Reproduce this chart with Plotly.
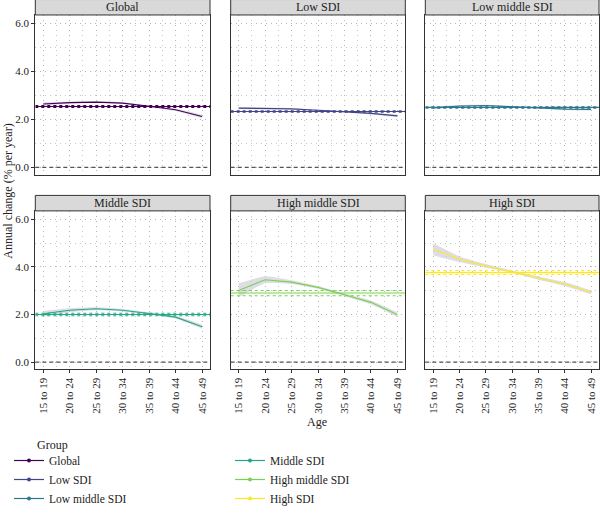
import plotly.graph_objects as go
from plotly.subplots import make_subplots

ages = ["15 to 19", "20 to 24", "25 to 29", "30 to 34", "35 to 39", "40 to 44", "45 to 49"]
groups = ["Global", "Low SDI", "Low middle SDI", "Middle SDI", "High middle SDI", "High SDI"]
colors = ["#440154", "#414487", "#2A788E", "#22A884", "#7AD151", "#FDE725"]

global_rate = [2.64, 2.70, 2.72, 2.68, 2.55, 2.40, 2.12]
low_rate = [2.47, 2.47, 2.44, 2.38, 2.32, 2.25, 2.15]
lowmid_rate = [2.48, 2.56, 2.58, 2.52, 2.47, 2.43, 2.42]
mid_rate = [2.03, 2.18, 2.24, 2.18, 2.04, 1.89, 1.49]
highmid_rate = [3.01, 3.46, 3.36, 3.14, 2.83, 2.51, 1.99]
high_rate = [4.74, 4.32, 4.04, 3.80, 3.53, 3.28, 2.93]

global_ci = [0.08, 0.05, 0.04, 0.04, 0.04, 0.05, 0.07]
low_ci = [0.05, 0.04, 0.03, 0.03, 0.03, 0.04, 0.05]
lowmid_ci = [0.05, 0.04, 0.03, 0.03, 0.03, 0.04, 0.05]
mid_ci = [0.12, 0.08, 0.06, 0.05, 0.05, 0.06, 0.09]
highmid_ci = [0.30, 0.15, 0.08, 0.06, 0.06, 0.08, 0.10]
high_ci = [0.25, 0.12, 0.08, 0.05, 0.07, 0.08, 0.08]

overall_rate = [2.54, 2.33, 2.50, 2.00, 2.90, 3.76]
overall_ci = [0.04, 0.03, 0.03, 0.05, 0.11, 0.08]

rates = [global_rate, low_rate, lowmid_rate, mid_rate, highmid_rate, high_rate]
cis = [global_ci, low_ci, lowmid_ci, mid_ci, highmid_ci, high_ci]

W, H = 600, 513
FONT = "Liberation Serif"
fig = make_subplots(rows=2, cols=3)

xdoms = [(35.3, 210.0), (230.7, 405.3), (425.3, 599.0)]
ydoms = [(15.0, 175.0), (211.3, 370.0)]
strip_h = 15.5

xpos = list(range(len(ages)))

for i, g in enumerate(groups):
    r, c = i // 3 + 1, i % 3 + 1
    col = colors[i]
    up = [v + e for v, e in zip(rates[i], cis[i])]
    lo = [v - e for v, e in zip(rates[i], cis[i])]
    fig.add_trace(go.Scatter(x=xpos, y=up, mode="lines", line=dict(width=0, shape="spline", smoothing=0.5),
                             showlegend=False, hoverinfo="skip"), row=r, col=c)
    fig.add_trace(go.Scatter(x=xpos, y=lo, mode="lines", line=dict(width=0, shape="spline", smoothing=0.5),
                             fill="tonexty", fillcolor="rgba(200,198,214,0.6)",
                             showlegend=False, hoverinfo="skip"), row=r, col=c)
    for yv, dash in [(overall_rate[i] + overall_ci[i], "dot"),
                     (overall_rate[i] - overall_ci[i], "dot"),
                     (overall_rate[i], "solid")]:
        fig.add_trace(go.Scatter(x=[-0.3, 6.3], y=[yv, yv], mode="lines",
                                 line=dict(color=col, width=1.1, dash=dash),
                                 showlegend=False, hoverinfo="skip"), row=r, col=c)
    fig.add_trace(go.Scatter(x=xpos, y=rates[i], mode="lines",
                             line=dict(color=col, width=1.1),
                             showlegend=False), row=r, col=c)
    fig.add_hline(y=0, line=dict(color="#555555", width=1.2, dash="4px,3px"), row=r, col=c)
    fig.add_trace(go.Scatter(x=[None], y=[None], mode="lines+markers", name=g,
                             line=dict(color=col, width=1.2), marker=dict(color=col, size=4),
                             legend="legend" if i < 3 else "legend2"), row=r, col=c)

for i in range(6):
    r, c = i // 3 + 1, i % 3 + 1
    x0, x1 = xdoms[c - 1]
    y0, y1 = ydoms[r - 1]
    fig.update_xaxes(row=r, col=c, domain=[x0 / W, x1 / W], range=[-0.3, 6.3],
                     tickvals=xpos, ticktext=ages, tickangle=-90,
                     showticklabels=(r == 2), ticks="outside" if r == 2 else "",
                     ticklen=3, tickcolor="#333333",
                     showline=True, mirror=True, linecolor="#333333", linewidth=1,
                     showgrid=True, gridcolor="#b5b5b5", griddash="1px,4px", gridwidth=1,
                     minor=dict(dtick=0.5, tick0=0, showgrid=True, gridcolor="#c8c8c8",
                                griddash="1px,4px", gridwidth=1),
                     zeroline=False, automargin=False,
                     tickfont=dict(size=11, color="#222222", family=FONT))
    fig.update_yaxes(row=r, col=c, domain=[1 - y1 / H, 1 - y0 / H], range=[-0.3, 6.35],
                     tickvals=[0, 2, 4, 6], tickformat=".1f",
                     showticklabels=(c == 1), ticks="outside" if c == 1 else "",
                     ticklen=3, tickcolor="#333333",
                     showline=True, mirror=True, linecolor="#333333", linewidth=1,
                     showgrid=True, gridcolor="#b5b5b5", griddash="1px,4px", gridwidth=1,
                     minor=dict(dtick=1, tick0=0, showgrid=True, gridcolor="#c8c8c8",
                                griddash="1px,4px", gridwidth=1),
                     zeroline=False, automargin=False,
                     tickfont=dict(size=11, color="#222222", family=FONT))
    fig.add_shape(type="rect", xref="paper", yref="paper",
                  x0=x0 / W, x1=x1 / W, y0=1 - y0 / H, y1=1 - (y0 - strip_h) / H,
                  fillcolor="#d9d9d9", line=dict(color="#333333", width=1), layer="above")
    fig.add_annotation(xref="paper", yref="paper", x=(x0 + x1) / 2 / W,
                       y=1 - (y0 - strip_h / 2) / H, text=groups[i], showarrow=False,
                       font=dict(size=12, color="#222222", family=FONT),
                       xanchor="center", yanchor="middle")

fig.add_annotation(xref="paper", yref="paper", x=317 / W, y=1 - 423 / H, text="Age",
                   showarrow=False, font=dict(size=12, color="#222222", family=FONT),
                   xanchor="center", yanchor="middle")
fig.add_annotation(xref="paper", yref="paper", x=8 / W, y=1 - 192 / H,
                   text="Annual change (% per year)", textangle=-90, showarrow=False,
                   font=dict(size=12, color="#222222", family=FONT),
                   xanchor="center", yanchor="middle")
fig.add_annotation(xref="paper", yref="paper", x=35 / W, y=1 - 446 / H, text="Group",
                   showarrow=False, font=dict(size=12, color="#222222", family=FONT),
                   xanchor="left", yanchor="middle")

legend_common = dict(xanchor="left", yanchor="top",
                     bgcolor="rgba(0,0,0,0)", tracegroupgap=0, itemwidth=30,
                     traceorder="normal", font=dict(size=11.5, family=FONT, color="#222222"))

fig.update_layout(
    width=W, height=H, margin=dict(l=0, r=0, t=0, b=0),
    paper_bgcolor="white", plot_bgcolor="white",
    font=dict(family=FONT, size=11, color="#222222"),
    legend=dict(x=9 / W, y=1 - 447 / H, **legend_common),
    legend2=dict(x=230 / W, y=1 - 447 / H, **legend_common),
    hovermode=False,
)

fig.write_html("out.html")
